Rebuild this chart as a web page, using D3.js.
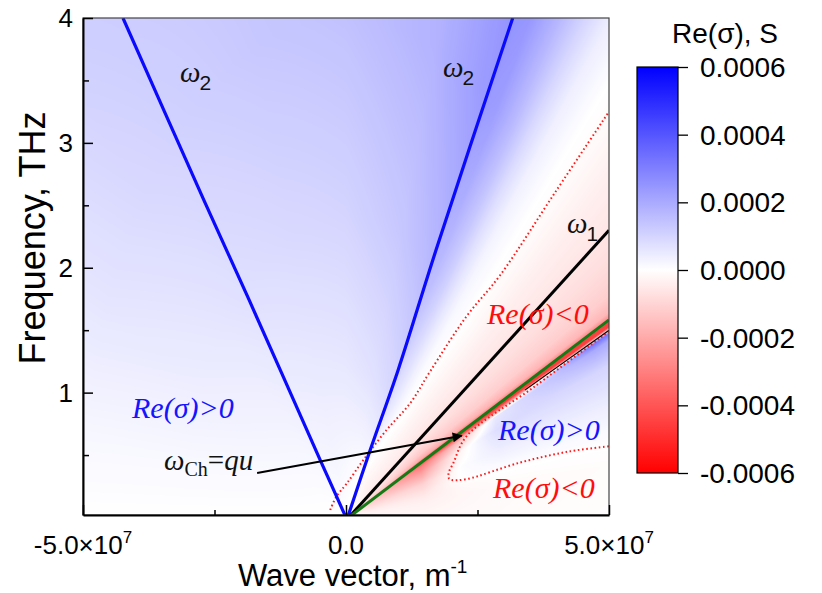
<!DOCTYPE html>
<html>
<head>
<meta charset="utf-8">
<script src="https://cdn.jsdelivr.net/npm/d3@7"></script>
<style>
body { margin: 0; background: #fff; }
</style>
</head>
<body>
<svg id="chart" width="822" height="593"></svg>
<script>
const waveTicks = [-5e7, 0, 5e7]
const waveMinor = [-2.5e7, 2.5e7]
const waveLabels = ["-5.0\u00d710", "0.0", "5.0\u00d710"]
const waveExp = ["7", "", "7"]
const freqTicks = [1, 2, 3, 4]
const freqMinor = [0.5, 1.5, 2.5, 3.5]
const barTicks = [0.0006, 0.0004, 0.0002, 0, -0.0002, -0.0004, -0.0006]

// curves as [q (m^-1), f (THz)]
const omega2Left = [[0, 0], [-0.49e7, 0.46], [-1.84e7, 1.74], [-2.70e7, 2.54], [-4.24e7, 4.0]]
const omega2Right = [[0.03e7, 0], [0.46e7, 0.54], [0.99e7, 1.18], [1.71e7, 2.14], [3.17e7, 4.0]]
const omega1 = [[0.05e7, 0], [5e7, 2.30]]
const omegaCh = [[0.05e7, 0], [5e7, 1.582]]
const edgeLine = [[3.4e7, 1.02], [5e7, 1.50]]
const zeroUpper = [[-0.30e7, 0.06], [-0.18e7, 0.17], [0.01e7, 0.27], [0.33e7, 0.46], [0.77e7, 0.70],
  [1.22e7, 0.915], [1.60e7, 1.17], [2.29e7, 1.61], [2.93e7, 1.94], [3.97e7, 2.60], [5e7, 3.25]]
const zeroLower = [[5e7, 1.49], [3.59e7, 1.05], [2.29e7, 0.65], [2.04e7, 0.435], [1.95e7, 0.355],
  [1.96e7, 0.31], [2.01e7, 0.30], [2.29e7, 0.307], [3.31e7, 0.44], [4.26e7, 0.53], [5e7, 0.57]]
const arrowLine = [[-1.69e7, 0.357], [2.2e7, 0.655]]

// Re(sigma) map, units 1e-4 S, read on rays from the origin
// phi = angle in axes normalised to q/5e7 and f/4, r = radius in the same units
const phiNodes = [0, 6, 8, 10, 13, 17, 19.5, 20.2, 20.5, 20.9, 21.3, 21.6, 22.3, 24, 27, 30, 34, 38, 41,
  45, 48, 51, 55, 57.6, 60, 70, 90, 110, 130, 140, 155, 170, 180]
const rNodes = [0, 0.1, 0.3, 0.45, 0.6, 1.0, 1.45]
const sigmaGrid = [
  [0, -0.15, -0.15, -0.12, -0.1, -0.05, -0.05],
  [0, -0.3, -0.35, -0.2, -0.12, -0.08, -0.08],
  [0, -0.4, -0.5, -0.15, -0.05, 0, 0],
  [0, -0.55, -0.7, 0.02, 0.1, 0.15, 0.15],
  [0, -0.8, -1.1, 0.05, 0.4, 0.45, 0.45],
  [0, -1.1, -2.2, -0.3, 0.8, 1.0, 1.0],
  [0, -1.2, -3.0, -1.5, 0.5, 2.0, 2.0],
  [0, -1.3, -3.5, -2.8, -1.5, 3.2, 3.2],
  [0, -1.3, -3.8, -3.8, -3.5, 1.0, 0.5],
  [0, -1.4, -4.0, -4.3, -4.6, -4.5, -4.5],
  [0, -1.4, -4.0, -4.5, -4.6, -4.5, -4.5],
  [0, -1.3, -3.2, -3.0, -3.0, -3.0, -3.0],
  [0, -1.0, -2.0, -1.9, -1.8, -1.7, -1.7],
  [0, -0.8, -1.3, -1.2, -1.15, -1.15, -1.15],
  [0, -0.6, -0.8, -0.8, -0.8, -0.8, -0.8],
  [0, -0.45, -0.6, -0.6, -0.6, -0.6, -0.6],
  [0, -0.35, -0.4, -0.4, -0.4, -0.4, -0.4],
  [0, -0.3, -0.25, -0.2, -0.15, -0.15, -0.15],
  [0, -0.25, -0.1, -0.05, 0, 0, 0],
  [0, -0.2, 0.05, 0.12, 0.2, 0.35, 0.45],
  [0, -0.15, 0.25, 0.42, 0.6, 0.9, 1.1],
  [0, -0.1, 0.5, 0.8, 1.1, 1.6, 1.8],
  [0, -0.05, 0.8, 1.2, 1.6, 2.3, 2.6],
  [0, 0, 0.9, 1.3, 1.7, 2.4, 2.7],
  [0, 0, 0.85, 1.22, 1.6, 2.3, 2.55],
  [0, 0.05, 0.7, 1.0, 1.3, 1.8, 1.95],
  [0, 0.15, 0.55, 0.78, 1.0, 1.45, 1.5],
  [0, 0.2, 0.5, 0.7, 0.9, 1.3, 1.4],
  [0, 0.15, 0.4, 0.58, 0.75, 1.05, 1.25],
  [0, 0.1, 0.3, 0.45, 0.6, 0.9, 1.1],
  [0, 0.05, 0.2, 0.3, 0.4, 0.6, 0.65],
  [0, 0.02, 0.08, 0.12, 0.15, 0.2, 0.2],
  [0, 0, 0, 0, 0, 0, 0]
]

const pLeft = 83, pRight = 609, pTop = 18, pBottom = 515

const svg = d3.select("#chart")
const defs = svg.append("defs")

const x = d3.scaleLinear().domain([-5e7, 5e7]).range([pLeft, pRight])
const y = d3.scaleLinear().domain([0.02, 4]).range([pBottom, pTop])
const sig = d3.scaleLinear().domain([-6e-4, 6e-4]).range([-1, 1]).clamp(true)

// heat map -> canvas -> image
const W = pRight - pLeft, H = pBottom - pTop
const canvas = document.createElement("canvas")
canvas.width = W
canvas.height = H
const ctx = canvas.getContext("2d")
const img = ctx.createImageData(W, H)

function lookup(phi, r) {
  let i = d3.bisectRight(phiNodes, phi) - 1
  i = Math.max(0, Math.min(phiNodes.length - 2, i))
  let j = d3.bisectRight(rNodes, r) - 1
  j = Math.max(0, Math.min(rNodes.length - 2, j))
  const a = Math.max(0, Math.min(1, (phi - phiNodes[i]) / (phiNodes[i + 1] - phiNodes[i])))
  const b = Math.max(0, Math.min(1, (r - rNodes[j]) / (rNodes[j + 1] - rNodes[j])))
  const v00 = sigmaGrid[i][j], v01 = sigmaGrid[i][j + 1]
  const v10 = sigmaGrid[i + 1][j], v11 = sigmaGrid[i + 1][j + 1]
  return (v00 * (1 - b) + v01 * b) * (1 - a) + (v10 * (1 - b) + v11 * b) * a
}

for (let py = 0; py < H; py++) {
  const f = y.invert(pTop + py + 0.5)
  for (let px = 0; px < W; px++) {
    const q = x.invert(pLeft + px + 0.5)
    const u = q / 5e7, w = Math.max(0, f / 4)
    const r = Math.hypot(u, w)
    const phi = Math.atan2(w, u) * 180 / Math.PI
    const t = sig(lookup(phi, r) * 1e-4)
    const k = (py * W + px) * 4
    if (t >= 0) {
      img.data[k] = 255 * (1 - t); img.data[k + 1] = 255 * (1 - t); img.data[k + 2] = 255
    } else {
      img.data[k] = 255; img.data[k + 1] = 255 * (1 + t); img.data[k + 2] = 255 * (1 + t)
    }
    img.data[k + 3] = 255
  }
}
ctx.putImageData(img, 0, 0)

svg.append("image")
  .attr("x", pLeft).attr("y", pTop)
  .attr("width", W).attr("height", H)
  .attr("href", canvas.toDataURL())

defs.append("clipPath").attr("id", "plotclip")
  .append("rect").attr("x", pLeft).attr("y", pTop).attr("width", W).attr("height", H)

const plot = svg.append("g").attr("clip-path", "url(#plotclip)")

const line = d3.line().x(d => x(d[0])).y(d => y(d[1]))
const smooth = d3.line().x(d => x(d[0])).y(d => y(d[1])).curve(d3.curveCatmullRom)

plot.append("path").attr("d", smooth(zeroUpper))
  .attr("fill", "none").attr("stroke", "#ff1a1a").attr("stroke-width", 2)
  .attr("stroke-dasharray", "1.6,2.6")
plot.append("path").attr("d", smooth(zeroLower))
  .attr("fill", "none").attr("stroke", "#ff1a1a").attr("stroke-width", 2)
  .attr("stroke-dasharray", "1.6,2.6")

plot.append("path").attr("d", line(edgeLine))
  .attr("fill", "none").attr("stroke", "black").attr("stroke-width", 1.2)

plot.selectAll("path.omega2")
  .data([omega2Left, omega2Right])
  .join("path")
    .attr("class", "omega2")
    .attr("d", smooth)
    .attr("fill", "none")
    .attr("stroke", "#0a0aff")
    .attr("stroke-width", 3.2)

plot.append("path").attr("d", line(omega1))
  .attr("fill", "none").attr("stroke", "black").attr("stroke-width", 3)
plot.append("path").attr("d", line(omegaCh))
  .attr("fill", "none").attr("stroke", "#157a15").attr("stroke-width", 3)

// arrow
defs.append("marker")
  .attr("id", "head")
  .attr("viewBox", "0 0 10 10")
  .attr("refX", 9).attr("refY", 5)
  .attr("markerWidth", 16).attr("markerHeight", 10)
  .attr("markerUnits", "userSpaceOnUse")
  .attr("orient", "auto")
  .append("path").attr("d", "M0,0L10,5L0,10Z").attr("fill", "black")

plot.append("path").attr("d", line(arrowLine))
  .attr("fill", "none").attr("stroke", "black").attr("stroke-width", 2)
  .attr("marker-end", "url(#head)")

// annotations
const serif = "'Liberation Serif', 'Times New Roman', serif"
const sans = "'Liberation Sans', Arial, sans-serif"

function omegaLabel(px, py, sub) {
  const t = svg.append("text").attr("x", px).attr("y", py).attr("fill", "#111")
  t.append("tspan").attr("font-family", serif).attr("font-style", "italic")
    .attr("font-size", 29).text("\u03c9")
  t.append("tspan").attr("font-family", sans).attr("font-size", 21)
    .attr("dx", -1).attr("dy", 8).text(sub)
}
omegaLabel(180, 82, "2")
omegaLabel(443, 77, "2")
omegaLabel(567, 233, "1")

const regionLabels = [
  {x: 487, y: 324, text: "Re(\u03c3)<0", color: "#ff0d0d"},
  {x: 498, y: 440, text: "Re(\u03c3)>0", color: "#1414ff"},
  {x: 493, y: 498, text: "Re(\u03c3)<0", color: "#ff0d0d"},
  {x: 132, y: 418, text: "Re(\u03c3)>0", color: "#1414ff"}
]
svg.selectAll("text.region")
  .data(regionLabels)
  .join("text")
    .attr("class", "region")
    .attr("x", d => d.x).attr("y", d => d.y)
    .attr("font-family", serif).attr("font-style", "italic").attr("font-size", 30)
    .attr("fill", d => d.color)
    .text(d => d.text)

const ch = svg.append("text").attr("x", 164).attr("y", 470).attr("fill", "#111")
  .attr("font-family", serif).attr("font-size", 29)
ch.append("tspan").attr("font-style", "italic").text("\u03c9")
ch.append("tspan").attr("font-size", 20).attr("dy", 6).text("Ch")
ch.append("tspan").attr("dy", -6).text("=")
ch.append("tspan").attr("font-style", "italic").text("qu")

// axes
svg.append("rect")
  .attr("x", pLeft).attr("y", pTop).attr("width", W).attr("height", H)
  .attr("fill", "none").attr("stroke", "#444").attr("stroke-width", 1.2)

const xAxis = svg.append("g").attr("transform", `translate(0,${pBottom})`)
  .call(d3.axisBottom(x).tickValues(waveTicks).tickSizeInner(-10).tickSizeOuter(0).tickFormat(""))
xAxis.append("g").call(d3.axisBottom(x).tickValues(waveMinor).tickSizeInner(-5).tickSizeOuter(0).tickFormat(""))
  .select(".domain").remove()
xAxis.selectAll("line").attr("stroke-width", 1.5)
xAxis.select(".domain").attr("stroke-width", 2)

const yAxis = svg.append("g").attr("transform", `translate(${pLeft},0)`)
  .call(d3.axisLeft(y).tickValues(freqTicks).tickSizeInner(-10).tickSizeOuter(0).tickFormat(""))
yAxis.append("g").call(d3.axisLeft(y).tickValues(freqMinor).tickSizeInner(-6).tickSizeOuter(0).tickFormat(""))
  .select(".domain").remove()
yAxis.selectAll("line").attr("stroke-width", 1.5)
yAxis.select(".domain").attr("stroke-width", 2)

svg.selectAll("text.ylab")
  .data(freqTicks)
  .join("text")
    .attr("class", "ylab")
    .attr("x", 73).attr("y", d => y(d))
    .attr("text-anchor", "end").attr("dominant-baseline", "central")
    .attr("font-family", sans).attr("font-size", 26)
    .text(d => d)

const xl = svg.selectAll("text.xlab")
  .data(waveTicks)
  .join("text")
    .attr("class", "xlab")
    .attr("x", d => x(d)).attr("y", 554)
    .attr("text-anchor", "middle")
    .attr("font-family", sans).attr("font-size", 26)
xl.append("tspan").text((d, i) => waveLabels[i])
xl.append("tspan").attr("font-size", 17).attr("dy", -11).text((d, i) => waveExp[i])

svg.append("text")
  .attr("transform", "translate(45,238) rotate(-90)")
  .attr("text-anchor", "middle")
  .attr("font-family", sans).attr("font-size", 36)
  .text("Frequency, THz")

const xt = svg.append("text").attr("x", 238).attr("y", 586)
  .attr("font-family", sans).attr("font-size", 31)
xt.append("tspan").text("Wave vector, m")
xt.append("tspan").attr("font-size", 19).attr("dy", -13).text("-1")

// colour bar
const barLeft = 637, barRight = 678
const cy = d3.scaleLinear().domain([-0.0006, 0.0006]).range([473, 67])
const grad = defs.append("linearGradient")
  .attr("id", "bar").attr("x1", 0).attr("y1", 0).attr("x2", 0).attr("y2", 1)
grad.append("stop").attr("offset", "0%").attr("stop-color", "#0000ff")
grad.append("stop").attr("offset", "50%").attr("stop-color", "#ffffff")
grad.append("stop").attr("offset", "100%").attr("stop-color", "#ff0000")

svg.append("rect")
  .attr("x", barLeft).attr("y", cy(0.0006))
  .attr("width", barRight - barLeft).attr("height", cy(-0.0006) - cy(0.0006))
  .attr("fill", "url(#bar)").attr("stroke", "black").attr("stroke-width", 1.2)

const barAxis = svg.append("g").attr("transform", `translate(${barRight},0)`)
  .call(d3.axisRight(cy).tickValues(barTicks).tickSize(10).tickFormat(d => d.toFixed(4)))
barAxis.select(".domain").remove()
barAxis.selectAll("line").attr("stroke-width", 1.3)
barAxis.selectAll("text")
  .attr("x", 22).attr("dy", null).attr("dominant-baseline", "central")
  .attr("font-family", sans).attr("font-size", 28).attr("fill", "black")

svg.append("text")
  .attr("x", 725).attr("y", 43)
  .attr("text-anchor", "middle")
  .attr("font-family", sans).attr("font-size", 28)
  .text("Re(\u03c3), S")
</script>
</body>
</html>
